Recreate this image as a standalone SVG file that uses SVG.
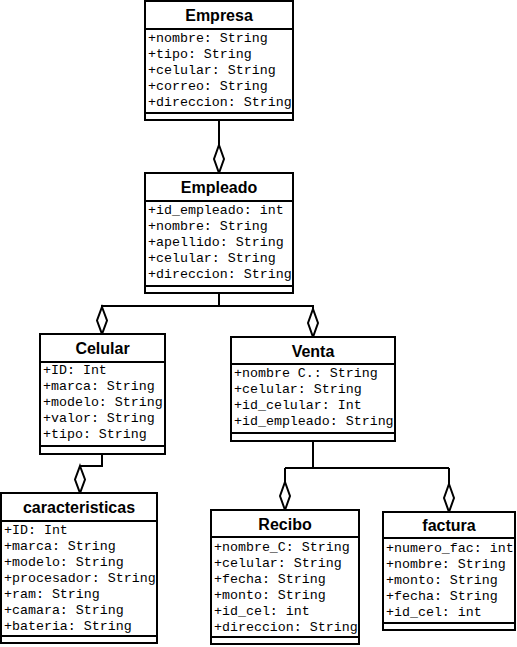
<svg xmlns="http://www.w3.org/2000/svg" width="517" height="647" viewBox="0 0 517 647">
<style>
.box{fill:#fff;stroke:#000;stroke-width:2}
.sep{stroke:#000;stroke-width:2}
.t{font-family:"Liberation Sans",Arial,sans-serif;font-weight:bold;font-size:16px;text-anchor:middle}
.a{font-family:"Liberation Mono","Courier New",monospace;font-size:13.3px}
.c{fill:none;stroke:#000;stroke-width:2}
.d{fill:#fff;stroke:#000;stroke-width:2}
</style>
<rect width="517" height="647" fill="#fff"/>
<g id="connectors">
<path class="c" d="M219,121 V145"/>
<path class="d" d="M219,145 L224,159 L219,173 L214,159 Z"/>
<path class="c" d="M219,293 V306 H102 V307"/>
<path class="d" d="M102,307 L107,320.5 L102,334 L97,320.5 Z"/>
<path class="c" d="M219,306 H313 V309"/>
<path class="d" d="M313,309 L318,323 L313,337 L308,323 Z"/>
<path class="c" d="M102,454 V466 H80"/>
<path class="d" d="M80,466 L85,479.5 L80,493 L75,479.5 Z"/>
<path class="c" d="M313,441 V468 M285,468 H449 M285,468 V482 M449,468 V484"/>
<path class="d" d="M285,482 L290,496 L285,510 L280,496 Z"/>
<path class="d" d="M449,484 L454,498 L449,512 L444,498 Z"/>
</g>
<g id="Empresa">
<rect class="box" x="145" y="1" width="148" height="119"/>
<line class="sep" x1="145" y1="29" x2="293" y2="29"/>
<line class="sep" x1="145" y1="113" x2="293" y2="113"/>
<text class="t" x="219" y="21">Empresa</text>
<text class="a" x="148" y="42">+nombre: String</text>
<text class="a" x="148" y="58">+tipo: String</text>
<text class="a" x="148" y="74">+celular: String</text>
<text class="a" x="148" y="90">+correo: String</text>
<text class="a" x="148" y="106">+direccion: String</text>
</g>
<g id="Empleado">
<rect class="box" x="145" y="173" width="148" height="120"/>
<line class="sep" x1="145" y1="201" x2="293" y2="201"/>
<line class="sep" x1="145" y1="286" x2="293" y2="286"/>
<text class="t" x="219" y="193">Empleado</text>
<text class="a" x="148" y="214">+id_empleado: int</text>
<text class="a" x="148" y="230">+nombre: String</text>
<text class="a" x="148" y="246">+apellido: String</text>
<text class="a" x="148" y="262">+celular: String</text>
<text class="a" x="148" y="278">+direccion: String</text>
</g>
<g id="Celular">
<rect class="box" x="40" y="334" width="125" height="120"/>
<line class="sep" x1="40" y1="362" x2="165" y2="362"/>
<line class="sep" x1="40" y1="446" x2="165" y2="446"/>
<text class="t" x="102.5" y="354">Celular</text>
<text class="a" x="43" y="374">+ID: Int</text>
<text class="a" x="43" y="390">+marca: String</text>
<text class="a" x="43" y="406">+modelo: String</text>
<text class="a" x="43" y="422">+valor: String</text>
<text class="a" x="43" y="438">+tipo: String</text>
</g>
<g id="Venta">
<rect class="box" x="231" y="337" width="164" height="104"/>
<line class="sep" x1="231" y1="364" x2="395" y2="364"/>
<line class="sep" x1="231" y1="433" x2="395" y2="433"/>
<text class="t" x="313" y="357">Venta</text>
<text class="a" x="234" y="377">+nombre C.: String</text>
<text class="a" x="234" y="393">+celular: String</text>
<text class="a" x="234" y="409">+id_celular: Int</text>
<text class="a" x="234" y="425">+id_empleado: String</text>
</g>
<g id="caracteristicas">
<rect class="box" x="1" y="493" width="156" height="150"/>
<line class="sep" x1="1" y1="521" x2="157" y2="521"/>
<line class="sep" x1="1" y1="636" x2="157" y2="636"/>
<text class="t" x="79" y="513">caracteristicas</text>
<text class="a" x="4" y="534">+ID: Int</text>
<text class="a" x="4" y="550">+marca: String</text>
<text class="a" x="4" y="566">+modelo: String</text>
<text class="a" x="4" y="582">+procesador: String</text>
<text class="a" x="4" y="598">+ram: String</text>
<text class="a" x="4" y="614">+camara: String</text>
<text class="a" x="4" y="630">+bateria: String</text>
</g>
<g id="Recibo">
<rect class="box" x="211" y="510" width="148" height="134"/>
<line class="sep" x1="211" y1="537" x2="359" y2="537"/>
<line class="sep" x1="211" y1="637" x2="359" y2="637"/>
<text class="t" x="285" y="530">Recibo</text>
<text class="a" x="214" y="551">+nombre_C: String</text>
<text class="a" x="214" y="567">+celular: String</text>
<text class="a" x="214" y="583">+fecha: String</text>
<text class="a" x="214" y="599">+monto: String</text>
<text class="a" x="214" y="615">+id_cel: int</text>
<text class="a" x="214" y="631">+direccion: String</text>
</g>
<g id="factura">
<rect class="box" x="383" y="512" width="132" height="118"/>
<line class="sep" x1="383" y1="538" x2="515" y2="538"/>
<line class="sep" x1="383" y1="623" x2="515" y2="623"/>
<text class="t" x="449" y="531">factura</text>
<text class="a" x="386" y="552">+numero_fac: int</text>
<text class="a" x="386" y="568">+nombre: String</text>
<text class="a" x="386" y="584">+monto: String</text>
<text class="a" x="386" y="600">+fecha: String</text>
<text class="a" x="386" y="616">+id_cel: int</text>
</g>
</svg>
